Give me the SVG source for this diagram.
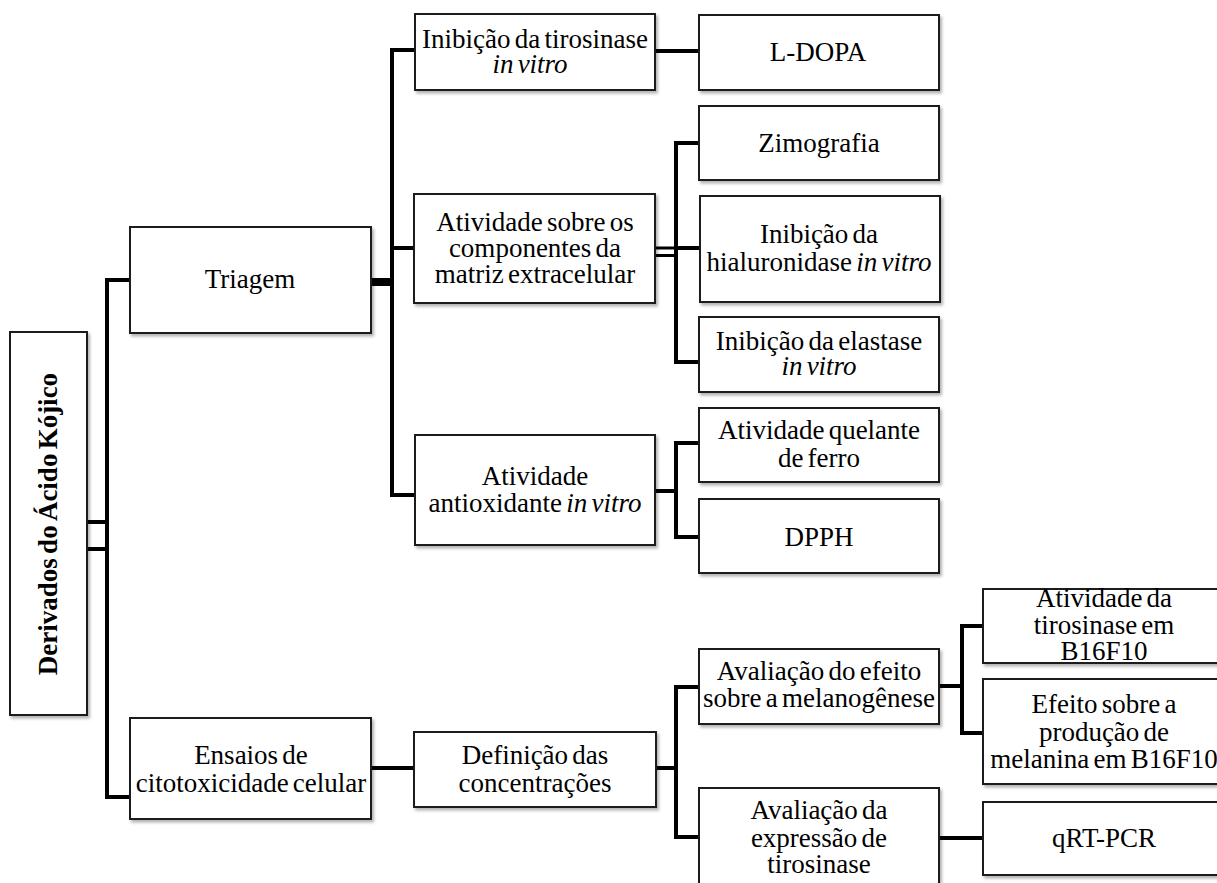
<svg xmlns="http://www.w3.org/2000/svg" width="1217" height="883" viewBox="0 0 1217 883">
<defs>
<filter id="sh" x="-10%" y="-10%" width="130%" height="140%">
<feDropShadow dx="2" dy="2.5" stdDeviation="1.5" flood-color="#000" flood-opacity="0.3"/>
</filter>
<style>
.box{fill:#fff;stroke:#1a1a1a;stroke-width:2;filter:url(#sh)}
.t{font-family:"Liberation Serif","Times New Roman",Times,serif;font-size:27px;fill:#000;text-anchor:middle;word-spacing:-2.5px}
.i{font-style:italic}
.b{font-weight:bold}
.c{stroke:#000;stroke-width:4;fill:none;stroke-linejoin:miter}
</style>
</defs>
<rect width="1217" height="883" fill="#fff"/>
<g id="connectors">
<path class="c" d="M87,522 H107 M87,549 H107"/>
<path class="c" d="M130,280 H107 V797 H130"/>
<path class="c" d="M371,282 H392" style="stroke-width:8"/>
<path class="c" d="M415,50 H392 V495 H415 M392,248 H415"/>
<path class="c" d="M655,51 H699"/>
<path class="c" d="M655,248 H676 M655,255.5 H676" style="stroke-width:3"/>
<path class="c" d="M699,143 H676 V362 H699 M676,248 H699"/>
<path class="c" d="M655,491 H676"/>
<path class="c" d="M699,443 H676 V537 H699"/>
<path class="c" d="M371,768 H414"/>
<path class="c" d="M656,768 H676"/>
<path class="c" d="M699,687 H676 V837 H699"/>
<path class="c" d="M939,686 H962"/>
<path class="c" d="M983,626 H962 V733 H983"/>
<path class="c" d="M939,838 H983"/>
</g>
<g id="root">
<rect class="box" x="10" y="332" width="77" height="383"/>
<text class="t b" transform="translate(57,524) rotate(-90)">Derivados do Ácido Kójico</text>
</g>
<g id="triagem">
<rect class="box" x="130" y="227" width="241" height="106"/>
<text class="t" x="250" y="288">Triagem</text>
</g>
<g id="ensaios">
<rect class="box" x="130" y="718" width="241" height="101"/>
<text class="t" x="251" y="764">Ensaios de</text>
<text class="t" x="251" y="792">citotoxicidade celular</text>
</g>
<g id="tirosinase">
<rect class="box" x="415" y="14" width="240" height="76"/>
<text class="t" x="535" y="48">Inibição da tirosinase</text>
<text class="t i" x="530" y="73">in vitro</text>
</g>
<g id="matriz">
<rect class="box" x="414" y="194" width="241" height="109"/>
<text class="t" x="535" y="231">Atividade sobre os</text>
<text class="t" x="535" y="257">componentes da</text>
<text class="t" x="535" y="283">matriz extracelular</text>
</g>
<g id="antioxidante">
<rect class="box" x="415" y="435" width="240" height="110"/>
<text class="t" x="535" y="485">Atividade</text>
<text class="t" x="535" y="512">antioxidante <tspan class="i">in vitro</tspan></text>
</g>
<g id="ldopa">
<rect class="box" x="699" y="15" width="240" height="75"/>
<text class="t" x="818" y="61">L-DOPA</text>
</g>
<g id="zimografia">
<rect class="box" x="699" y="106" width="240" height="74"/>
<text class="t" x="819" y="152">Zimografia</text>
</g>
<g id="hialuronidase">
<rect class="box" x="700" y="196" width="240" height="106"/>
<text class="t" x="819" y="243">Inibição da</text>
<text class="t" x="819" y="271">hialuronidase <tspan class="i">in vitro</tspan></text>
</g>
<g id="elastase">
<rect class="box" x="699" y="317" width="240" height="75"/>
<text class="t" x="819" y="350">Inibição da elastase</text>
<text class="t i" x="819" y="375">in vitro</text>
</g>
<g id="quelante">
<rect class="box" x="699" y="408" width="240" height="74"/>
<text class="t" x="819" y="439">Atividade quelante</text>
<text class="t" x="819" y="467">de ferro</text>
</g>
<g id="dpph">
<rect class="box" x="699" y="499" width="240" height="74"/>
<text class="t" x="819" y="546">DPPH</text>
</g>
<g id="definicao">
<rect class="box" x="414" y="732" width="242" height="75"/>
<text class="t" x="535" y="764">Definição das</text>
<text class="t" x="535" y="792">concentrações</text>
</g>
<g id="melanogenese">
<rect class="box" x="699" y="649" width="240" height="75"/>
<text class="t" x="819" y="680">Avaliação do efeito</text>
<text class="t" x="819" y="707">sobre a melanogênese</text>
</g>
<g id="expressao">
<rect class="box" x="699" y="788" width="240" height="112"/>
<text class="t" x="819" y="819">Avaliação da</text>
<text class="t" x="819" y="847">expressão de</text>
<text class="t" x="819" y="873">tirosinase</text>
</g>
<g id="atividade-b16">
<rect class="box" x="983" y="589" width="244" height="74"/>
<text class="t" x="1104" y="607">Atividade da</text>
<text class="t" x="1104" y="634">tirosinase em</text>
<text class="t" x="1104" y="660">B16F10</text>
</g>
<g id="melanina-b16">
<rect class="box" x="983" y="679" width="244" height="105"/>
<text class="t" x="1104" y="713">Efeito sobre a</text>
<text class="t" x="1104" y="741">produção de</text>
<text class="t" x="1104" y="768">melanina em B16F10</text>
</g>
<g id="qrtpcr">
<rect class="box" x="983" y="802" width="244" height="73"/>
<text class="t" x="1104" y="847">qRT-PCR</text>
</g>
</svg>
